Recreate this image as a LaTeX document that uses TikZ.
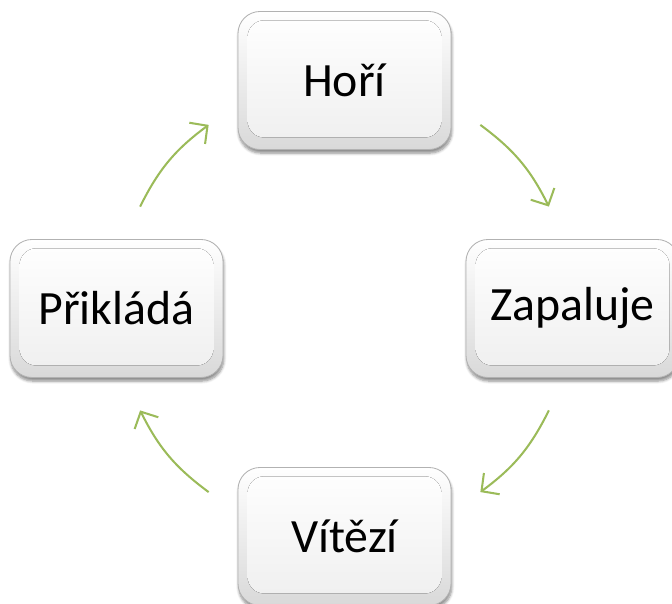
\documentclass[tikz,border=0pt]{standalone}
\usepackage{fontspec}
\setmainfont{Carlito}
\usepackage{tikz}
\usetikzlibrary{arrows.meta,shadows.blur}

\definecolor{cyclegreen}{HTML}{9BBB59}
\tikzset{
  keycap/.style={rectangle, rounded corners=0.55cm,
    minimum width=5.325cm, minimum height=3.45cm,
    draw=gray!60, line width=0.6pt,
    top color=white, bottom color=gray!30,
    blur shadow={shadow xshift=0.02cm, shadow yshift=-0.09cm,
      shadow blur steps=6, shadow opacity=45},
    path picture={\fill[rounded corners=0.42cm, top color=white, bottom color=gray!13]
      ([shift={(0.24cm,-0.22cm)}]path picture bounding box.north west) rectangle
      ([shift={(-0.24cm,0.3cm)}]path picture bounding box.south east);},
    font=\fontsize{34}{40}\selectfont},
  cycle/.style={draw=cyclegreen, line width=1.45pt,
    -{Straight Barb[length=0.32cm,width=0.66cm]}}
}

\begin{document}
\begin{tikzpicture}
       \useasboundingbox (0,0) rectangle (16.8,15.1);
       \coordinate (c) at (8.6125,7.3875);
       \node [keycap] (hori) at (8.6125,13.0875) {Hoří};
       \node [keycap] (zapal) at (14.3125,7.3875) {Zapaluje};
       \node [keycap] (vitez) at (8.6125,1.6875) {Vítězí};
       \node [keycap] (prikl) at (2.9125,7.3875) {Přikládá};
       % arrow ends on the circle through the boxes
       \path (c) ++(53.5:5.71) coordinate (hz_0)
             (c) ++(26.5:5.71) coordinate (hz_1)
             (c) ++(-26.5:5.71) coordinate (zv_0)
             (c) ++(-53.5:5.71) coordinate (zv_1)
             (c) ++(-126.5:5.71) coordinate (vp_0)
             (c) ++(-153.5:5.71) coordinate (vp_1)
             (c) ++(153.5:5.71) coordinate (ph_0)
             (c) ++(126.5:5.71) coordinate (ph_1);
        \path[every edge/.style={cycle}]
        (hz_0) edge [bend left=13.5] (hz_1)
        (zv_0) edge [bend left=13.5] (zv_1)
        (vp_0) edge [bend left=13.5] (vp_1)
        (ph_0) edge [bend left=13.5] (ph_1);
    \end{tikzpicture}
\end{document}
